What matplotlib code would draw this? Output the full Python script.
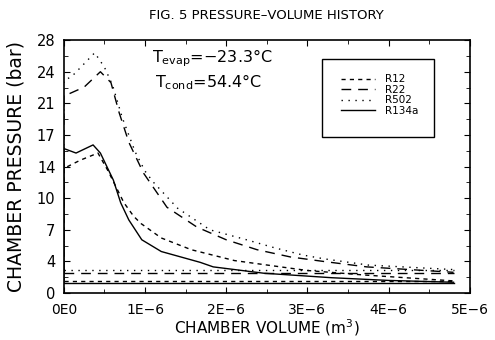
import matplotlib
matplotlib.use('Agg')
import matplotlib.pyplot as plt
from matplotlib.patches import Rectangle
from matplotlib.ticker import FixedLocator, MultipleLocator

plt.rcParams['font.family'] = ['DejaVu Sans']

# Chamber volume in units of 1E-6 m^3, pressure in bar (compression + discharge branch)
v_r12 = [0, 0, 0.2, 0.42, 0.54, 0.74, 0.86, 0.95, 1.2, 1.57, 2.1, 2.67, 3.0, 3.7, 4.8]
p_r12 = [1.3, 13.8, 14.7, 15.5, 13.6, 10.0, 8.5, 7.7, 6.1, 4.8, 3.6, 2.9, 2.5, 2.0, 1.35]

v_r22 = [0, 0, 0.1, 0.25, 0.45, 0.58, 0.68, 0.8, 0.98, 1.27, 1.64, 2.0, 2.38, 2.79, 3.2, 3.73, 4.8]
p_r22 = [2.2, 21.8, 22.2, 22.8, 24.5, 23.3, 20.0, 16.7, 13.3, 9.5, 7.3, 5.9, 4.8, 4.0, 3.5, 2.9, 2.3]

v_r502 = [0, 0, 0.1, 0.23, 0.38, 0.5, 0.6, 0.72, 0.88, 1.0, 1.1, 1.4, 1.8, 2.25, 2.6, 2.95, 3.2, 3.75, 4.8]
p_r502 = [2.5, 23.5, 24.0, 25.2, 26.6, 25.0, 23.0, 19.4, 15.6, 13.5, 12.3, 9.4, 7.0, 5.9, 5.0, 4.2, 3.8, 3.1, 2.6]

v_r134a = [0, 0, 0.15, 0.36, 0.45, 0.61, 0.7, 0.8, 0.96, 1.2, 1.44, 1.68, 1.84, 2.46, 3.3, 4.0, 4.8]
p_r134a = [1.15, 16.0, 15.5, 16.4, 15.5, 12.5, 10.0, 8.1, 5.9, 4.6, 4.0, 3.4, 2.9, 2.2, 1.7, 1.4, 1.2]

# suction lines (constant pressure)
v_suction = [0, 4.8]
p_suction = {'R12': 1.3, 'R22': 2.2, 'R502': 2.5, 'R134a': 1.15}

y_ticks = [0, 3.5, 7, 10.5, 14, 17.5, 21, 24.5, 28]
y_tick_labels = ['0', '4', '7', '10', '14', '17', '21', '24', '28']
x_ticks = [0, 1, 2, 3, 4, 5]
x_tick_labels = ['0E0', '1E\u22126', '2E\u22126', '3E\u22126', '4E\u22126', '5E\u22126']

styles = {
    'R12': dict(color='black', lw=1.0, dashes=(3, 3)),
    'R22': dict(color='black', lw=1.0, dashes=(7, 5)),
    'R502': dict(color='black', lw=1.0, dashes=(1, 4)),
    'R134a': dict(color='black', lw=1.0),
}
curves = {
    'R12': (v_r12, p_r12),
    'R22': (v_r22, p_r22),
    'R502': (v_r502, p_r502),
    'R134a': (v_r134a, p_r134a),
}

fig = plt.figure(figsize=(4.95, 3.4), dpi=100)
ax = fig.add_axes([0.129, 0.138, 0.820, 0.744])

for name, (v, p) in curves.items():
    ax.plot(v, p, label=name, **styles[name])
    ax.plot(v_suction, [p_suction[name]] * 2, **styles[name])

ax.set_xlim(0, 5)
ax.set_ylim(0, 28)
ax.xaxis.set_major_locator(FixedLocator(x_ticks))
ax.xaxis.set_minor_locator(MultipleLocator(0.5))
ax.set_xticklabels(x_tick_labels)
ax.yaxis.set_major_locator(FixedLocator(y_ticks))
ax.yaxis.set_minor_locator(MultipleLocator(1.75))
ax.set_yticklabels(y_tick_labels)
ax.tick_params(which='both', direction='in', top=True, right=True, labelsize=10.5)
ax.tick_params(axis='x', labelsize=10)
ax.tick_params(which='major', length=4)
ax.tick_params(which='minor', length=3)
ax.tick_params(axis='x', which='major', pad=7)
ax.tick_params(axis='y', which='major', pad=6)
for s in ax.spines.values():
    s.set_linewidth(1.2)

ax.set_xlabel('CHAMBER VOLUME (m$^3$)', fontsize=11, labelpad=0)
ax.set_ylabel('CHAMBER PRESSURE (bar)', fontsize=13.5, labelpad=8)
ax.set_title('FIG. 5 PRESSURE\u2013VOLUME HISTORY', fontsize=9.5, pad=15)

ax.text(0.218, 0.928, 'T$_{\\rm evap}$=\u221223.3\u00b0C', transform=ax.transAxes,
        fontsize=11.5, va='center')
ax.text(0.225, 0.835, 'T$_{\\rm cond}$=54.4\u00b0C', transform=ax.transAxes,
        fontsize=11.5, va='center')

# legend box drawn separately so the padding can be uneven like the original
ax.add_patch(Rectangle((0.635, 0.617), 0.276, 0.308, transform=ax.transAxes,
                       fill=False, edgecolor='black', lw=1.0, zorder=5))
ax.legend(loc='center', bbox_to_anchor=(0.778, 0.783), fontsize=7.5,
          frameon=False, borderpad=0, labelspacing=0.05, handlelength=3.3,
          handletextpad=1.0)

fig.savefig('out.png', dpi=100)
